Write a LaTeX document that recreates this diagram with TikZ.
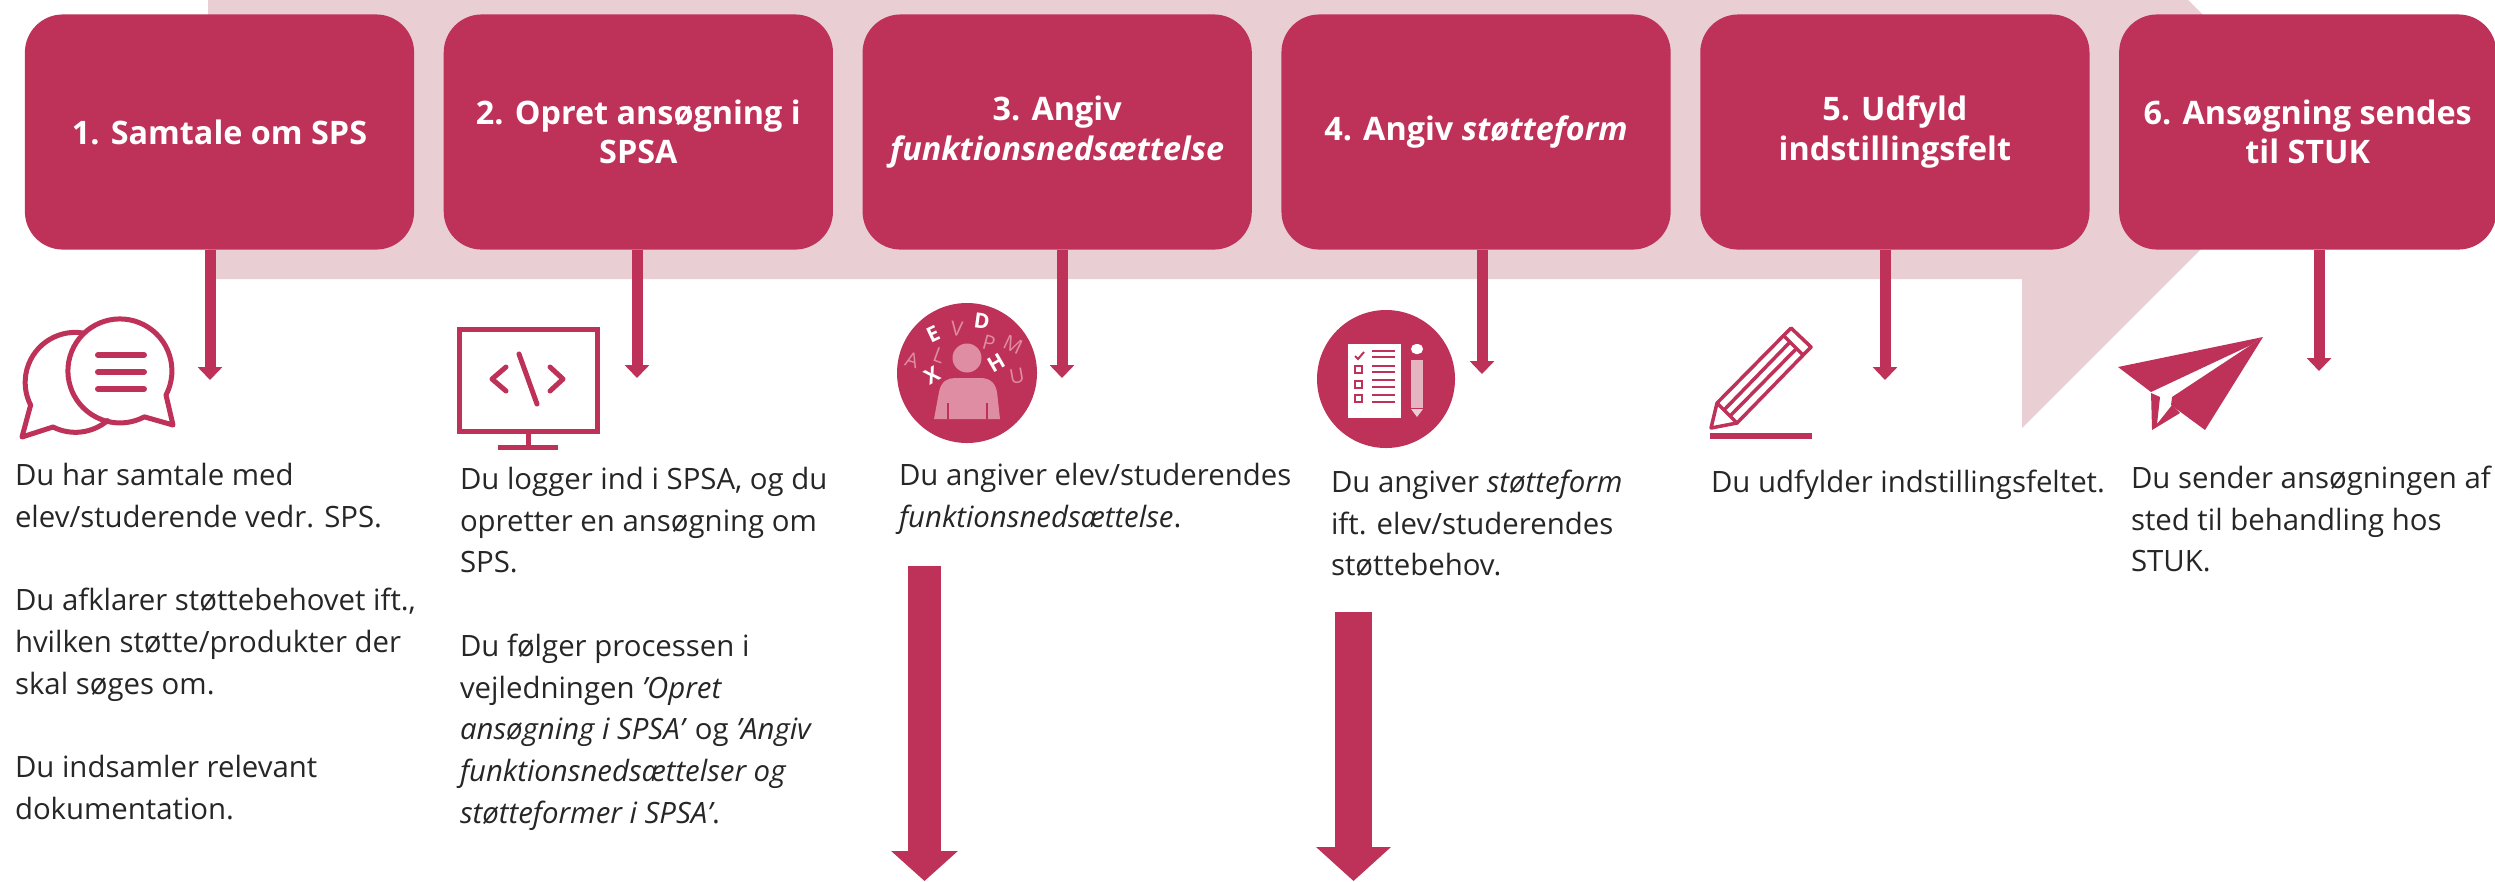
\documentclass[tikz,border=0pt]{standalone}
\usepackage{fontspec}
\setmainfont{Open Sans}
\usetikzlibrary{arrows.meta,positioning}
\definecolor{spsred}{HTML}{BE3159}
\definecolor{spsband}{HTML}{E9CED3}
\definecolor{spspink}{HTML}{DE8DA3}
\definecolor{spstext}{HTML}{262626}
\tikzset{
  stepbox/.style={fill=spsred, text=white, rounded corners=0.38cm, minimum width=3.89cm,
    minimum height=2.35cm, inner sep=0pt, outer sep=0pt, align=center,
    font=\fontsize{9.2}{11.2}\selectfont\bfseries},
  stemline/.style={draw=spsred, line width=0.11cm, -{Triangle[length=0.13cm,width=0.24cm]}},
  bodytext/.style={anchor=north west, inner sep=0pt, outer sep=0pt, align=left, text=spstext,
    font=\fontsize{8.35}{11.87}\selectfont},
  iconline/.style={draw=spsred, line width=0.05cm, line cap=round, line join=round},
  thinline/.style={draw=spsred, line width=0.035cm, line join=round},
  letterwhite/.style={text=white, inner sep=0pt, font=\fontsize{6}{6}\selectfont\bfseries},
  letterpink/.style={text=spspink, inner sep=0pt, font=\fontsize{5.8}{6}\selectfont}
}
\begin{document}
\begin{tikzpicture}[x=0.01cm, y=-0.01cm]
\useasboundingbox (0,0) rectangle (2495,881);
\fill[spsband] (208,0) -- (2188,0) -- (2319,131) -- (2022,428) -- (2022,279) -- (208,279) -- cycle;

\node[stepbox] (samtale) at (219.5,132) {1. Samtale om SPS};
\node[stepbox, right=0.296cm of samtale] (opret) {2. Opret ansøgning i\\SPSA};
\node[stepbox, right=0.296cm of opret] (angiv) {3. Angiv\\\textit{funktionsnedsættelse}};
\node[stepbox, right=0.296cm of angiv] (form) {4. Angiv \textit{støtteform}};
\node[stepbox, right=0.296cm of form] (udfyld) {5. Udfyld\\indstillingsfelt};
\node[stepbox, right=0.296cm of udfyld, minimum width=3.77cm] (sendes) {6. Ansøgning sendes\\til STUK};

\coordinate (stemA) at (210,380);
\coordinate (stemB) at (637,378);
\coordinate (stemC) at (1062,378);
\coordinate (stemD) at (1482,374);
\coordinate (stemE) at (1885,380);
\coordinate (stemF) at (2319,371);
\draw[stemline] (samtale.south -| stemA) -- (stemA);
\draw[stemline] (opret.south -| stemB) -- (stemB);
\draw[stemline] (angiv.south -| stemC) -- (stemC);
\draw[stemline] (form.south -| stemD) -- (stemD);
\draw[stemline] (udfyld.south -| stemE) -- (stemE);
\draw[stemline] (sendes.south -| stemF) -- (stemF);

\node[bodytext] (textA) at (15,463) {Du har samtale med\\elev/studerende vedr. SPS.\\\mbox{}\\Du afklarer støttebehovet ift.,\\hvilken støtte/produkter der\\skal søges om.\\\mbox{}\\Du indsamler relevant\\dokumentation.};
\node[bodytext] (textB) at (460,467) {Du logger ind i SPSA, og du\\opretter en ansøgning om\\SPS.\\\mbox{}\\Du følger processen i\\vejledningen \textit{'Opret}\\\textit{ansøgning i SPSA'} og \textit{'Angiv}\\\textit{funktionsnedsættelser og}\\\textit{støtteformer i SPSA'}.};
\node[bodytext] (textC) at (899,463) {Du angiver elev/studerendes\\\textit{funktionsnedsættelse}.};
\node[bodytext] (textD) at (1331,470) {Du angiver \textit{støtteform}\\ift. elev/studerendes\\støttebehov.};
\node[bodytext] (textE) at (1711,470) {Du udfylder indstillingsfeltet.};
\node[bodytext] (textF) at (2131,466) {Du sender ansøgningen af\\sted til behandling hos\\STUK.};

\coordinate (bigC) at (924.5,566);
\coordinate (bigCtip) at (924.5,881);
\coordinate (bigD) at (1353.5,612);
\coordinate (bigDtip) at (1353.5,881);
\draw[draw=spsred, line width=0.33cm, -{Triangle[length=0.30cm,width=0.65cm]}] (bigC) -- (bigCtip);
\draw[draw=spsred, line width=0.37cm, -{Triangle[length=0.34cm,width=0.73cm]}] (bigD) -- (bigDtip);

% talk bubbles
\draw[iconline] (166,395) arc[start angle=27.6, end angle=-298, radius=52] -- (173,425) -- cycle;
\draw[iconline] (83,333) arc[start angle=-81, end angle=-207, radius=50] -- (22,437) -- (53,427)
  arc[start angle=116.6, end angle=50, radius=50];
\foreach \y in {355,372,389}
  \draw[iconline, line width=0.06cm] (98,\y) -- (144,\y);

% screen
\draw[iconline, line cap=butt, line join=miter] (459,329) rectangle (597,431);
\draw[iconline, line cap=butt] (528,431) -- (528,447);
\draw[iconline, line cap=butt] (498,447.5) -- (558,447.5);
\draw[iconline] (506,367) -- (492,379) -- (506,391);
\draw[iconline] (519,354) -- (537,404);
\draw[iconline] (550,367) -- (563,379) -- (550,391);

% person with letters
\fill[spsred] (967,373) circle (70);
\fill[spspink] (967,358) circle (14.5);
\fill[spspink] (934,419) -- (939,392) .. controls (941,381) and (948,378) .. (955,378) -- (980,378)
  .. controls (988,378) and (995,381) .. (997,392) -- (1000,419) -- cycle;
\draw[spsred, line width=0.02cm] (948,403) -- (948,419) (987,403) -- (987,419);
\foreach \ltr/\x/\y/\rot in {E/933/334/25, D/982/321/-8, X/932/375/30, H/996/363/30}
  \node[letterwhite, rotate=\rot] (white\ltr) at (\x,\y) {\ltr};
\foreach \ltr/\x/\y/\rot in {A/912/360/-15, L/939/355/-20, V/957/329/-5, P/989/343/-15, M/1013/345/-25, U/1017/376/10}
  \node[letterpink, rotate=\rot] (pink\ltr) at (\x,\y) {\ltr};

% checklist
\fill[spsred] (1386,379) circle (69);
\fill[white] (1348,344) rectangle (1401,418);
\draw[spsred, line width=0.02cm] (1355,356) -- (1358,359) -- (1364,352);
\foreach \y in {369,384,398}
  \draw[spsred, line width=0.02cm] (1354.5,\y-3.5) rectangle (1361.5,\y+3.5);
\foreach \y in {351,357,366,372,380,387,395,402}
  \draw[spsred, line width=0.015cm] (1372,\y) -- (1395,\y);
\fill[white, rounded corners=0.05cm] (1411,354) -- (1411,344) -- (1423,344) -- (1423,354) -- cycle;
\fill[spsband!60!spspink] (1411,360) rectangle (1423,408);
\fill[spsband] (1411,409) -- (1423,409) -- (1417,417) -- cycle;

% pencil
\draw[thinline] (1711,428) -- (1717,403) -- (1791,328) -- (1811,347) -- (1737,423) -- cycle;
\draw[thinline] (1717,403) -- (1737,423);
\draw[thinline] (1783,335) -- (1803,355);
\draw[thinline] (1724,410) -- (1790,342);
\draw[thinline] (1730,416) -- (1796,349);
\fill[spsred] (1710,433) rectangle (1812,439);

% paper plane
\fill[spsred] (2263,337) -- (2118,367) -- (2151,392) -- (2251,345) -- cycle;
\fill[spsred] (2263,337) -- (2205,430) -- (2171,405) -- (2172,397) -- cycle;
\fill[spsred] (2151,393) -- (2152,430) -- (2180,413) -- (2172,405) -- (2157,424) -- (2160,397) -- cycle;
\end{tikzpicture}
\end{document}
